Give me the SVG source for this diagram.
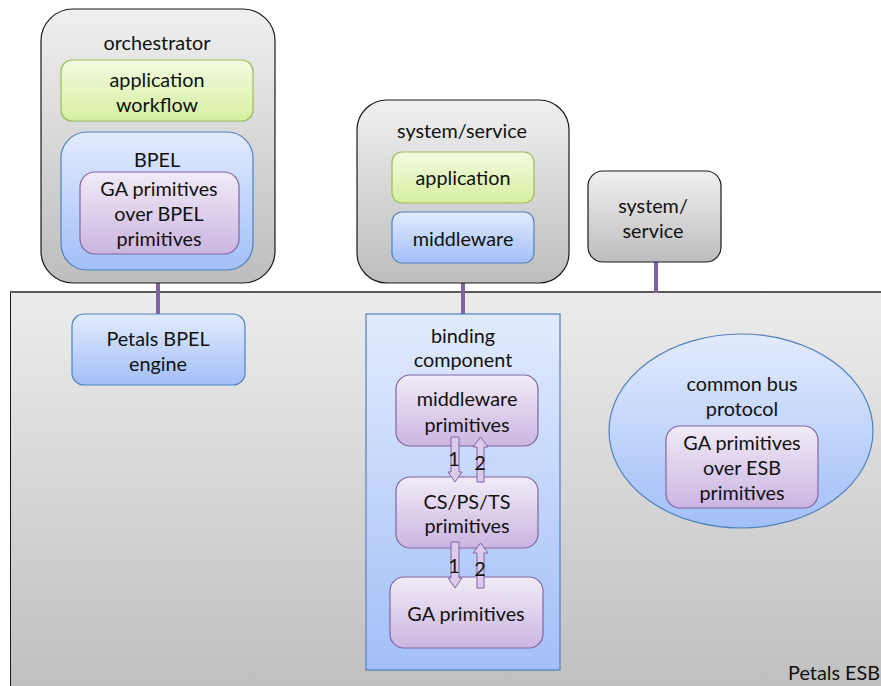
<svg xmlns="http://www.w3.org/2000/svg" width="881" height="686" viewBox="0 0 881 686">
<defs>
<linearGradient id="gGray" x1="0" y1="0" x2="0" y2="1"><stop offset="0" stop-color="#f0f0f0"/><stop offset="1" stop-color="#bdbdbd"/></linearGradient>
<linearGradient id="gEsb" x1="0" y1="0" x2="0" y2="1"><stop offset="0" stop-color="#ececec"/><stop offset="1" stop-color="#bfbfbf"/></linearGradient>
<linearGradient id="gGreen" x1="0" y1="0" x2="0" y2="1"><stop offset="0" stop-color="#f3fbe1"/><stop offset="1" stop-color="#d5efa0"/></linearGradient>
<linearGradient id="gBlue" x1="0" y1="0" x2="0" y2="1"><stop offset="0" stop-color="#e2ebfd"/><stop offset="1" stop-color="#a2bff8"/></linearGradient>
<linearGradient id="gPurple" x1="0" y1="0" x2="0" y2="1"><stop offset="0" stop-color="#f1ebf7"/><stop offset="1" stop-color="#cbb5e1"/></linearGradient>
</defs>
<style>
text{font-family:Lato,"Liberation Sans",sans-serif;font-size:19.8px;fill:#111;text-anchor:middle;dominant-baseline:central}
.gray{fill:url(#gGray);stroke:#1a1a1a;stroke-width:1.2}
.green{fill:url(#gGreen);stroke:#9bbb59;stroke-width:1.2}
.blue{fill:url(#gBlue);stroke:#4f81bd;stroke-width:1.2}
.purple{fill:url(#gPurple);stroke:#8064a2;stroke-width:1.2}
.link{stroke:#8064a2;stroke-width:4;fill:none}
.arrow{fill:#dccbea;stroke:#8064a2;stroke-width:1}
</style>

<g id="petals-esb">
<rect x="10.5" y="292" width="880" height="400" fill="url(#gEsb)" stroke="#1a1a1a" stroke-width="1"/>
<line x1="10" y1="292" x2="881" y2="292" stroke="#595959" stroke-width="2"/>
<text x="880" y="672" style="text-anchor:end">Petals ESB</text>
</g>

<g id="connectors">
<line class="link" x1="158" y1="270" x2="158" y2="315"/>
<line class="link" x1="463" y1="263" x2="463" y2="315"/>
<line class="link" x1="656" y1="262" x2="656" y2="293"/>
</g>

<g id="orchestrator">
<rect class="gray" x="41" y="9" width="234" height="274" rx="32"/>
<text x="157" y="42">orchestrator</text>
</g>
<g id="application-workflow">
<rect class="green" x="61" y="60" width="192" height="61" rx="11"/>
<text x="157" y="79">application</text>
<text x="157" y="104">workflow</text>
</g>
<g id="bpel">
<rect class="blue" x="61" y="132" width="192" height="138" rx="26"/>
<text x="157" y="159">BPEL</text>
</g>
<g id="ga-over-bpel">
<rect class="purple" x="80" y="172" width="159" height="82" rx="15"/>
<text x="159" y="188">GA primitives</text>
<text x="159" y="213">over BPEL</text>
<text x="159" y="238">primitives</text>
</g>
<g id="petals-bpel-engine">
<rect class="blue" x="72" y="314" width="173" height="71" rx="12"/>
<text x="158" y="338">Petals BPEL</text>
<text x="158" y="363">engine</text>
</g>

<g id="system-service">
<rect class="gray" x="357" y="100" width="212" height="183" rx="30"/>
<text x="462" y="130">system/service</text>
</g>
<g id="application">
<rect class="green" x="392" y="152" width="142" height="51" rx="10"/>
<text x="463" y="177">application</text>
</g>
<g id="middleware">
<rect class="blue" x="392" y="212" width="142" height="51" rx="10"/>
<text x="463" y="238">middleware</text>
</g>

<g id="binding-component">
<rect x="366" y="314" width="194" height="356" fill="url(#gBlue)" stroke="#4f81bd" stroke-width="1.2"/>
<text x="463" y="335">binding</text>
<text x="463" y="359">component</text>
</g>
<g id="middleware-primitives">
<rect class="purple" x="396" y="375" width="142" height="71" rx="14"/>
<text x="467" y="398">middleware</text>
<text x="467" y="424">primitives</text>
</g>
<g id="cs-ps-ts-primitives">
<rect class="purple" x="396" y="477" width="142" height="71" rx="14"/>
<text x="467" y="501">CS/PS/TS</text>
<text x="467" y="525">primitives</text>
</g>
<g id="ga-primitives">
<rect class="purple" x="390" y="577" width="153" height="71" rx="14"/>
<text x="466" y="613">GA primitives</text>
</g>

<g id="flow-arrows">
<polygon class="arrow" points="451,437 459,437 459,472 462,472 455,482 448,472 451,472"/>
<polygon class="arrow" points="477,482 484,482 484,447 488,447 480.5,437 473,447 477,447"/>
<polygon class="arrow" points="451,542 459,542 459,578 462,578 455,588 448,578 451,578"/>
<polygon class="arrow" points="477,588 484,588 484,553 488,553 480.5,543 473,553 477,553"/>
<text x="454" y="458">1</text>
<text x="480" y="462">2</text>
<text x="454" y="565">1</text>
<text x="480" y="568">2</text>
</g>

<g id="system-service-2">
<rect class="gray" x="588" y="171" width="133" height="91" rx="15"/>
<text x="653" y="205">system/</text>
<text x="653" y="230">service</text>
</g>

<g id="common-bus-protocol">
<ellipse cx="741" cy="431" rx="132" ry="97" fill="url(#gBlue)" stroke="#4f81bd" stroke-width="1.2"/>
<text x="742" y="383">common bus</text>
<text x="742" y="408">protocol</text>
</g>
<g id="ga-over-esb">
<rect class="purple" x="666" y="426" width="152" height="82" rx="14"/>
<text x="742" y="442">GA primitives</text>
<text x="742" y="467">over ESB</text>
<text x="742" y="492">primitives</text>
</g>
</svg>
